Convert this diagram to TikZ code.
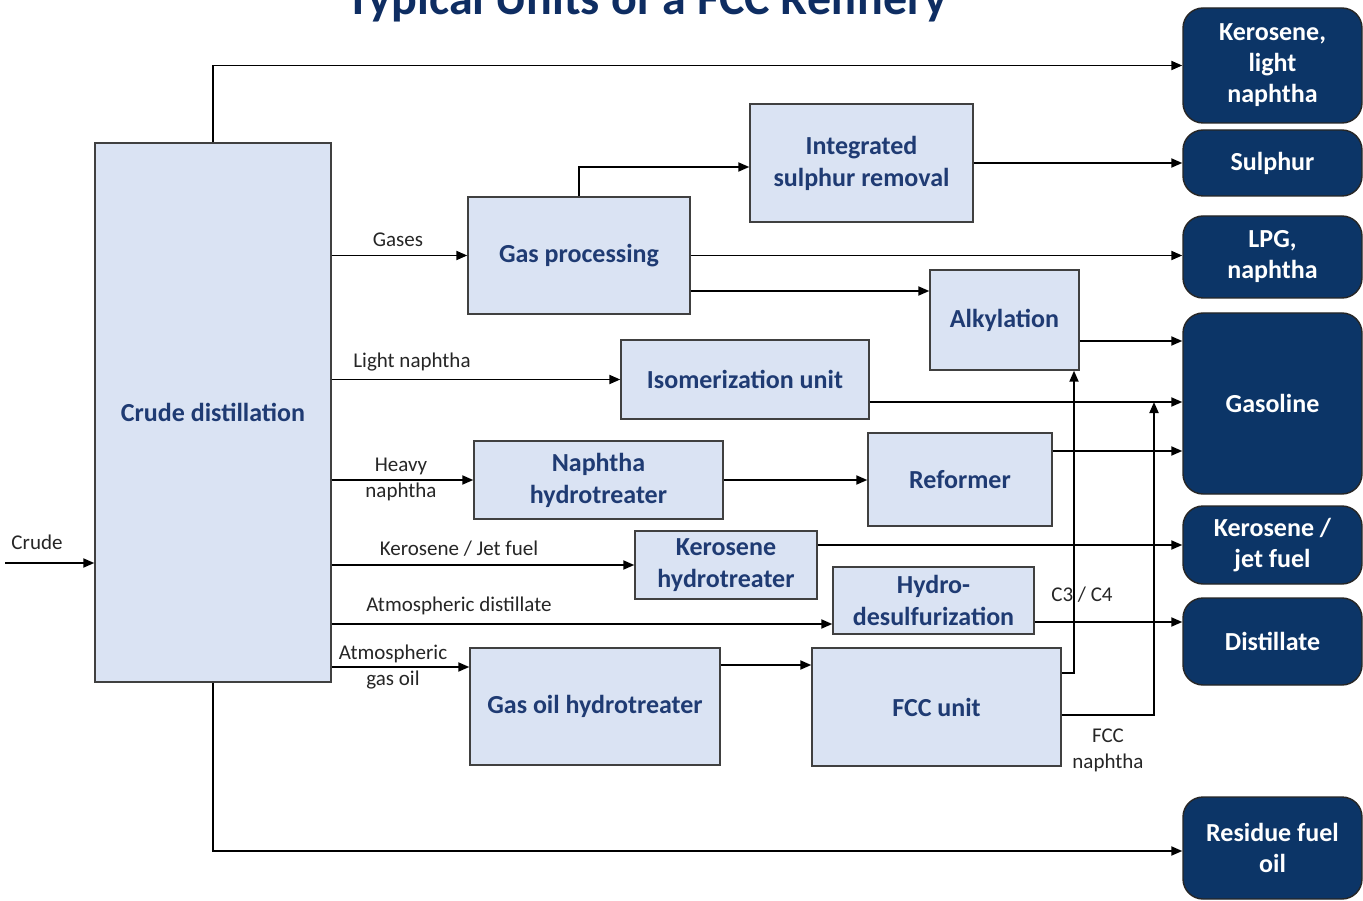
\documentclass[tikz,border=0pt]{standalone}
\usepackage{fontspec}
\setmainfont{Carlito}
\usetikzlibrary{arrows.meta}
\definecolor{unitfill}{HTML}{DAE3F3}
\definecolor{unittext}{HTML}{1F3B73}
\definecolor{prodfill}{HTML}{0C3567}
\definecolor{titlecol}{HTML}{0E2D62}
\definecolor{flowlabel}{HTML}{262626}
\begin{document}
\begin{tikzpicture}[x=1pt,y=-1pt,
  unit/.style={draw=black!75, line width=1.4pt, fill=unitfill, text=unittext,
    font=\fontsize{26}{32}\selectfont\bfseries, align=center, inner sep=0pt},
  product/.style={draw=black!85, line width=1.4pt, fill=prodfill, text=white,
    rounded corners=20pt, font=\fontsize{26}{31}\selectfont\bfseries, align=center,
    inner sep=0pt, minimum width=179pt},
  flow/.style={draw=black, line width=1.9pt, -{Triangle[length=11pt,width=9pt]}},
  lbl/.style={text=flowlabel, font=\fontsize{21}{26}\selectfont, align=center, inner sep=0pt}]
\useasboundingbox (0,0) rectangle (1363,901);
\clip (0,0) rectangle (1363,901);
\fill[white] (0,0) rectangle (1363,901);

% title
\node[font=\fontsize{48}{58}\selectfont\bfseries, text=titlecol, anchor=base, inner sep=0pt] (title) at (647,15) {Typical Units of a FCC Refinery};

% process units
\node[unit, minimum width=236pt, minimum height=539pt] (cd)  at (213,412.5) {Crude distillation};
\node[unit, minimum width=222pt, minimum height=117pt] (gp)  at (579,255.5) {Gas processing};
\node[unit, minimum width=223pt, minimum height=118pt] (isr) at (861.5,163) {Integrated\\sulphur removal};
\node[unit, minimum width=149pt, minimum height=100pt] (alk) at (1004.5,320) {Alkylation};
\node[unit, minimum width=248pt, minimum height=79pt]  (iso) at (745,379.5) {Isomerization unit};
\node[unit, minimum width=249pt, minimum height=78pt]  (nht) at (598.5,480) {Naphtha\\hydrotreater};
\node[unit, minimum width=184pt, minimum height=93pt]  (ref) at (960,479.5) {Reformer};
\node[unit, minimum width=182pt, minimum height=68pt]  (kht) at (726,565) {Kerosene\\hydrotreater};
\node[unit, minimum width=201pt, minimum height=67pt]  (hds) at (933.5,600.5) {Hydro-\\desulfurization};
\node[unit, minimum width=250pt, minimum height=117pt] (goh) at (595,706.5) {Gas oil hydrotreater};
\node[unit, minimum width=249pt, minimum height=118pt] (fcc) at (936.5,707) {FCC unit};

% products
\node[product, minimum height=115pt] (kln) at (1272.5,65.5) {Kerosene,\\light\\naphtha};
\node[product, minimum height=66pt]  (sul) at (1272.5,163) {Sulphur};
\node[product, minimum height=82pt]  (lpg) at (1272.5,257) {LPG,\\naphtha};
\node[product, minimum height=181pt] (gas) at (1272.5,403.5) {Gasoline};
\node[product, minimum height=78pt]  (kjf) at (1272.5,545) {Kerosene /\\jet fuel};
\node[product, minimum height=87pt]  (dis) at (1272.5,641.5) {Distillate};
\node[product, minimum height=102pt] (rfo) at (1272.5,848) {Residue fuel\\oil};

% feed
\coordinate (crude) at (5,563);
\draw[flow] (crude) -- (crude -| cd.west);
\node[lbl] (lcrude) at (37,542) {Crude};

% straight-run streams
\draw[flow] (cd.north) |- (kln.west);
\draw[flow] (cd.south) |- (rfo.west |- 0,851);
\draw[flow] (cd.east |- gp.west) -- (gp.west);
\node[lbl] (lgas) at (398,240) {Gases};
\draw[flow] (cd.east |- iso.west) -- (iso.west);
\node[lbl] (llight) at (412,362) {Light naphtha};
\draw[flow] (cd.east |- nht.west) -- (nht.west);
\node[lbl] (lheavy) at (401,479) {Heavy\\naphtha};
\draw[flow] (cd.east |- kht.west) -- (kht.west);
\node[lbl] (lkero) at (459,549) {Kerosene / Jet fuel};
\draw[flow] (cd.east |- 0,624) -- (hds.west |- 0,624);
\node[lbl] (ldist) at (459,606) {Atmospheric distillate};
\draw[flow] (cd.east |- 0,667) -- (goh.west |- 0,667);
\node[lbl] (lago) at (393,667) {Atmospheric\\gas oil};

% gas plant
\draw[flow] (gp.north) |- (isr.west |- 0,167);
\draw[flow] (isr.east) -- (sul.west);
\draw[flow] (gp.east) -- (lpg.west |- gp.east);
\draw[flow] (gp.east |- 0,291) -- (alk.west |- 0,291);
\draw[flow] (alk.east |- 0,341) -- (gas.west |- 0,341);

% naphtha upgrading
\draw[flow] (iso.east |- 0,402) -- (gas.west |- 0,402);
\draw[flow] (nht.east) -- (ref.west |- nht.east);
\draw[flow] (ref.east |- 0,451) -- (gas.west |- 0,451);

% middle distillates
\draw[flow] (kht.east |- 0,545) -- (kjf.west |- 0,545);
\draw[flow] (hds.east |- 0,622) -- (dis.west |- 0,622);

% gas oil and FCC
\draw[flow] (goh.east |- 0,665) -- (fcc.west |- 0,665);
\draw[flow] (fcc.east |- 0,673) -| (1074,0 |- alk.south);
\node[lbl] (lc34) at (1082,595) {C3 / C4};
\coordinate (fccjoin) at (1154,402);
\draw[flow] (fcc.east |- 0,715) -| (fccjoin);
\node[lbl] (lfccn) at (1108,750) {FCC\\naphtha};
\end{tikzpicture}
\end{document}
